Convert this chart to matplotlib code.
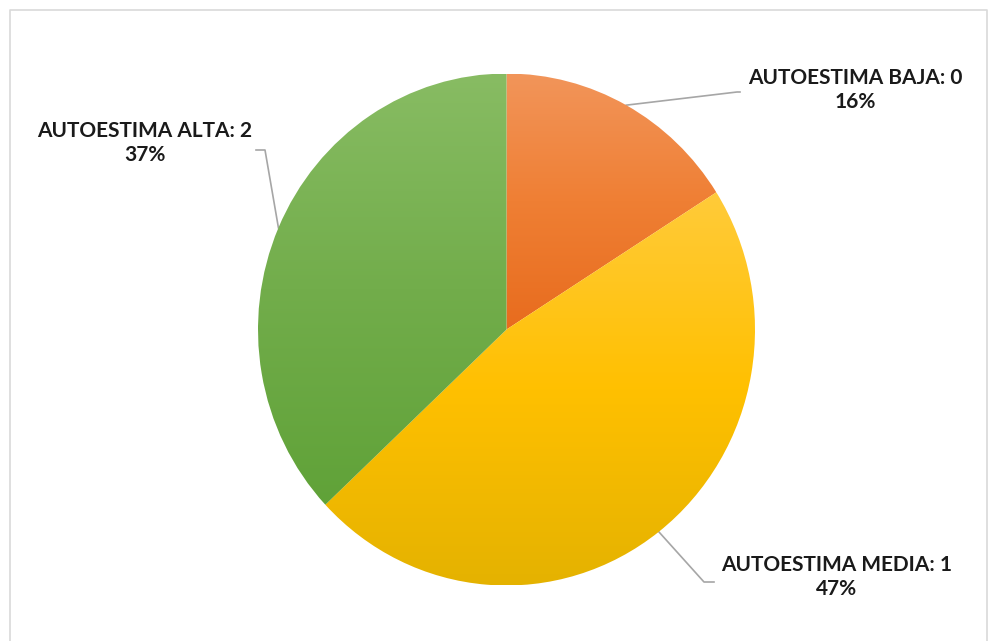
import numpy as np
import matplotlib
matplotlib.use("Agg")
import matplotlib.pyplot as plt
from matplotlib.colors import LinearSegmentedColormap
from matplotlib.lines import Line2D


# =========================
# DATA
# =========================

LABELS = ["AUTOESTIMA BAJA: 0", "AUTOESTIMA MEDIA: 1", "AUTOESTIMA ALTA: 2"]
SHARES = [16, 47, 37]

# gradient stops bottom -> top for each slice
GRADIENTS = [
    ["#E86C1E", "#EF7F34", "#F2955A"],
    ["#E4B200", "#FFC000", "#FFCB3A"],
    ["#60A238", "#72AD4B", "#88BC63"],
]

# label anchor (figure pixels, from top-left) and leader elbow
LABEL_POS = [(855, 90), (837, 577), (145, 143)]
ELBOWS = [(737, 92), (704, 582), (265, 150)]
ELBOW_ENDS = [(740, 92), (714, 582), (256, 150)]


# =========================
# PLOT
# =========================

W, H = 989, 641
fig = plt.figure(figsize=(W / 100, H / 100), dpi=100)

# outer light border
border = fig.add_axes([0, 0, 1, 1])
border.set_xlim(0, W)
border.set_ylim(H, 0)
border.axis("off")
border.add_line(Line2D([10, 10, 987, 987], [H + 5, 10, 10, H + 5],
                       color="#D9D9D9", linewidth=1.2))

cx, cy, rx, ry = 506.5, 329.5, 248.5, 256
ax = fig.add_axes([(cx - rx) / W, (H - cy - ry) / H, 2 * rx / W, 2 * ry / H])

wedges, _ = ax.pie(
    SHARES,
    startangle=90,
    counterclock=False,
    radius=1.0,
    wedgeprops=dict(linewidth=0),
)
ax.set_aspect("auto")
ax.axis("off")

for w, stops in zip(wedges, GRADIENTS):
    w.set_facecolor("none")
    verts = w.get_path().vertices
    y0, y1 = verts[:, 1].min(), verts[:, 1].max()
    x0, x1 = verts[:, 0].min(), verts[:, 0].max()
    cmap = LinearSegmentedColormap.from_list("g", stops)
    grad = np.linspace(0, 1, 256).reshape(-1, 1)
    im = ax.imshow(grad, cmap=cmap, origin="lower", aspect="auto",
                   extent=[x0, x1, y0, y1], zorder=1)
    im.set_clip_path(w)
    w.set_zorder(2)

ax.set_xlim(-1, 1)
ax.set_ylim(-1, 1)

# leader lines and labels
angles = []
start = 90.0
total = sum(SHARES)
for s in SHARES:
    span = 360.0 * s / total
    angles.append(start - span / 2)
    start -= span

for lab, s, ang, pos, elb, end in zip(LABELS, SHARES, angles, LABEL_POS, ELBOWS, ELBOW_ENDS):
    px = cx + rx * np.cos(np.radians(ang))
    py = cy - ry * np.sin(np.radians(ang))
    border.add_line(Line2D([px, elb[0], end[0]], [py, elb[1], end[1]],
                           color="#A6A6A6", linewidth=1.2))
    border.text(pos[0], pos[1], f"{lab}\n{s}%", ha="center", va="center",
                fontsize=15, fontweight="bold", family="Lato",
                color="#1A1A1A", linespacing=1.25)

fig.savefig("out.png", dpi=100)
